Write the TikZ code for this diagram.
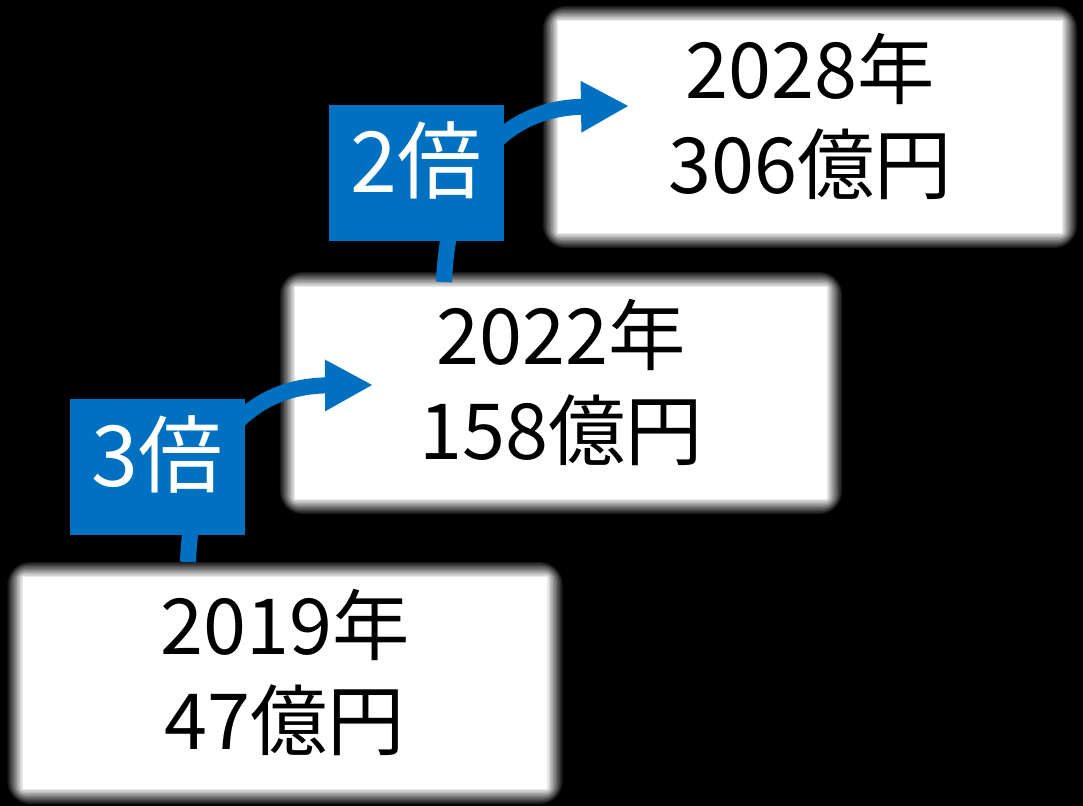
\documentclass[tikz,border=0pt]{standalone}
\usepackage{fontspec}
\setmainfont{Noto Sans CJK JP}
\usetikzlibrary{arrows.meta,backgrounds}
\definecolor{bluebox}{RGB}{0,112,192}

\begin{document}
\begin{tikzpicture}[x=0.025cm,y=-0.025cm,
    yearbox/.style={fill=white,minimum height=5.275cm,align=center,
      text height=102pt,text depth=8pt,font=\fontsize{55}{67}\selectfont},
    gain/.style={fill=bluebox,text=white,minimum width=4.375cm,minimum height=3.4cm,
      text depth=23pt,font=\fontsize{60}{72}\selectfont},
    growarrow/.style={draw=bluebox,line width=0.4cm,-{Triangle[length=1.2cm,width=1.2cm]}}]
  \useasboundingbox (0,0) rectangle (1083,806);

  \begin{scope}[every node/.style={yearbox}]
    \node (y19) at (285,683) [minimum width=13.1cm] {2019年\\47億円};
    \node (y22) at (561,393) [minimum width=13.275cm] {2022年\\158億円};
    \node (y28) at (810,127) [minimum width=12.575cm] {2028年\\306億円};
  \end{scope}

  % soft edge round the white boxes
  \begin{scope}[on background layer]
    \fill[black] (0,0) rectangle (1083,806);
    \foreach \n in {y19,y22,y28}
      \foreach \d/\o in {1/0.5,2/0.333,3/0.25,4/0.2,5/0.167,6/0.143,7/0.125,8/0.111,9/0.1,10/0.091,11/0.083}
        \fill[white,fill opacity=\o,rounded corners=1.5*\d]
          ([shift={(-1.4*\d,-1.4*\d)}]\n.north west) rectangle ([shift={(1.4*\d,1.4*\d)}]\n.south east);
  \end{scope}

  \coordinate (s1) at (188,562);
  \coordinate (t1) at (373,385);
  \coordinate (s2) at (444,282);
  \coordinate (t2) at (629,106);
  \draw[growarrow] (s1) .. controls (192,450) and (245,386) .. (t1);
  \draw[growarrow] (s2) .. controls (448,172) and (501,108) .. (t2);

  \begin{scope}[every node/.style={gain}]
    \node (b3) at (157.5,467) {3倍};
    \node (b2) at (416.5,173) {2倍};
  \end{scope}

\end{tikzpicture}
\end{document}
